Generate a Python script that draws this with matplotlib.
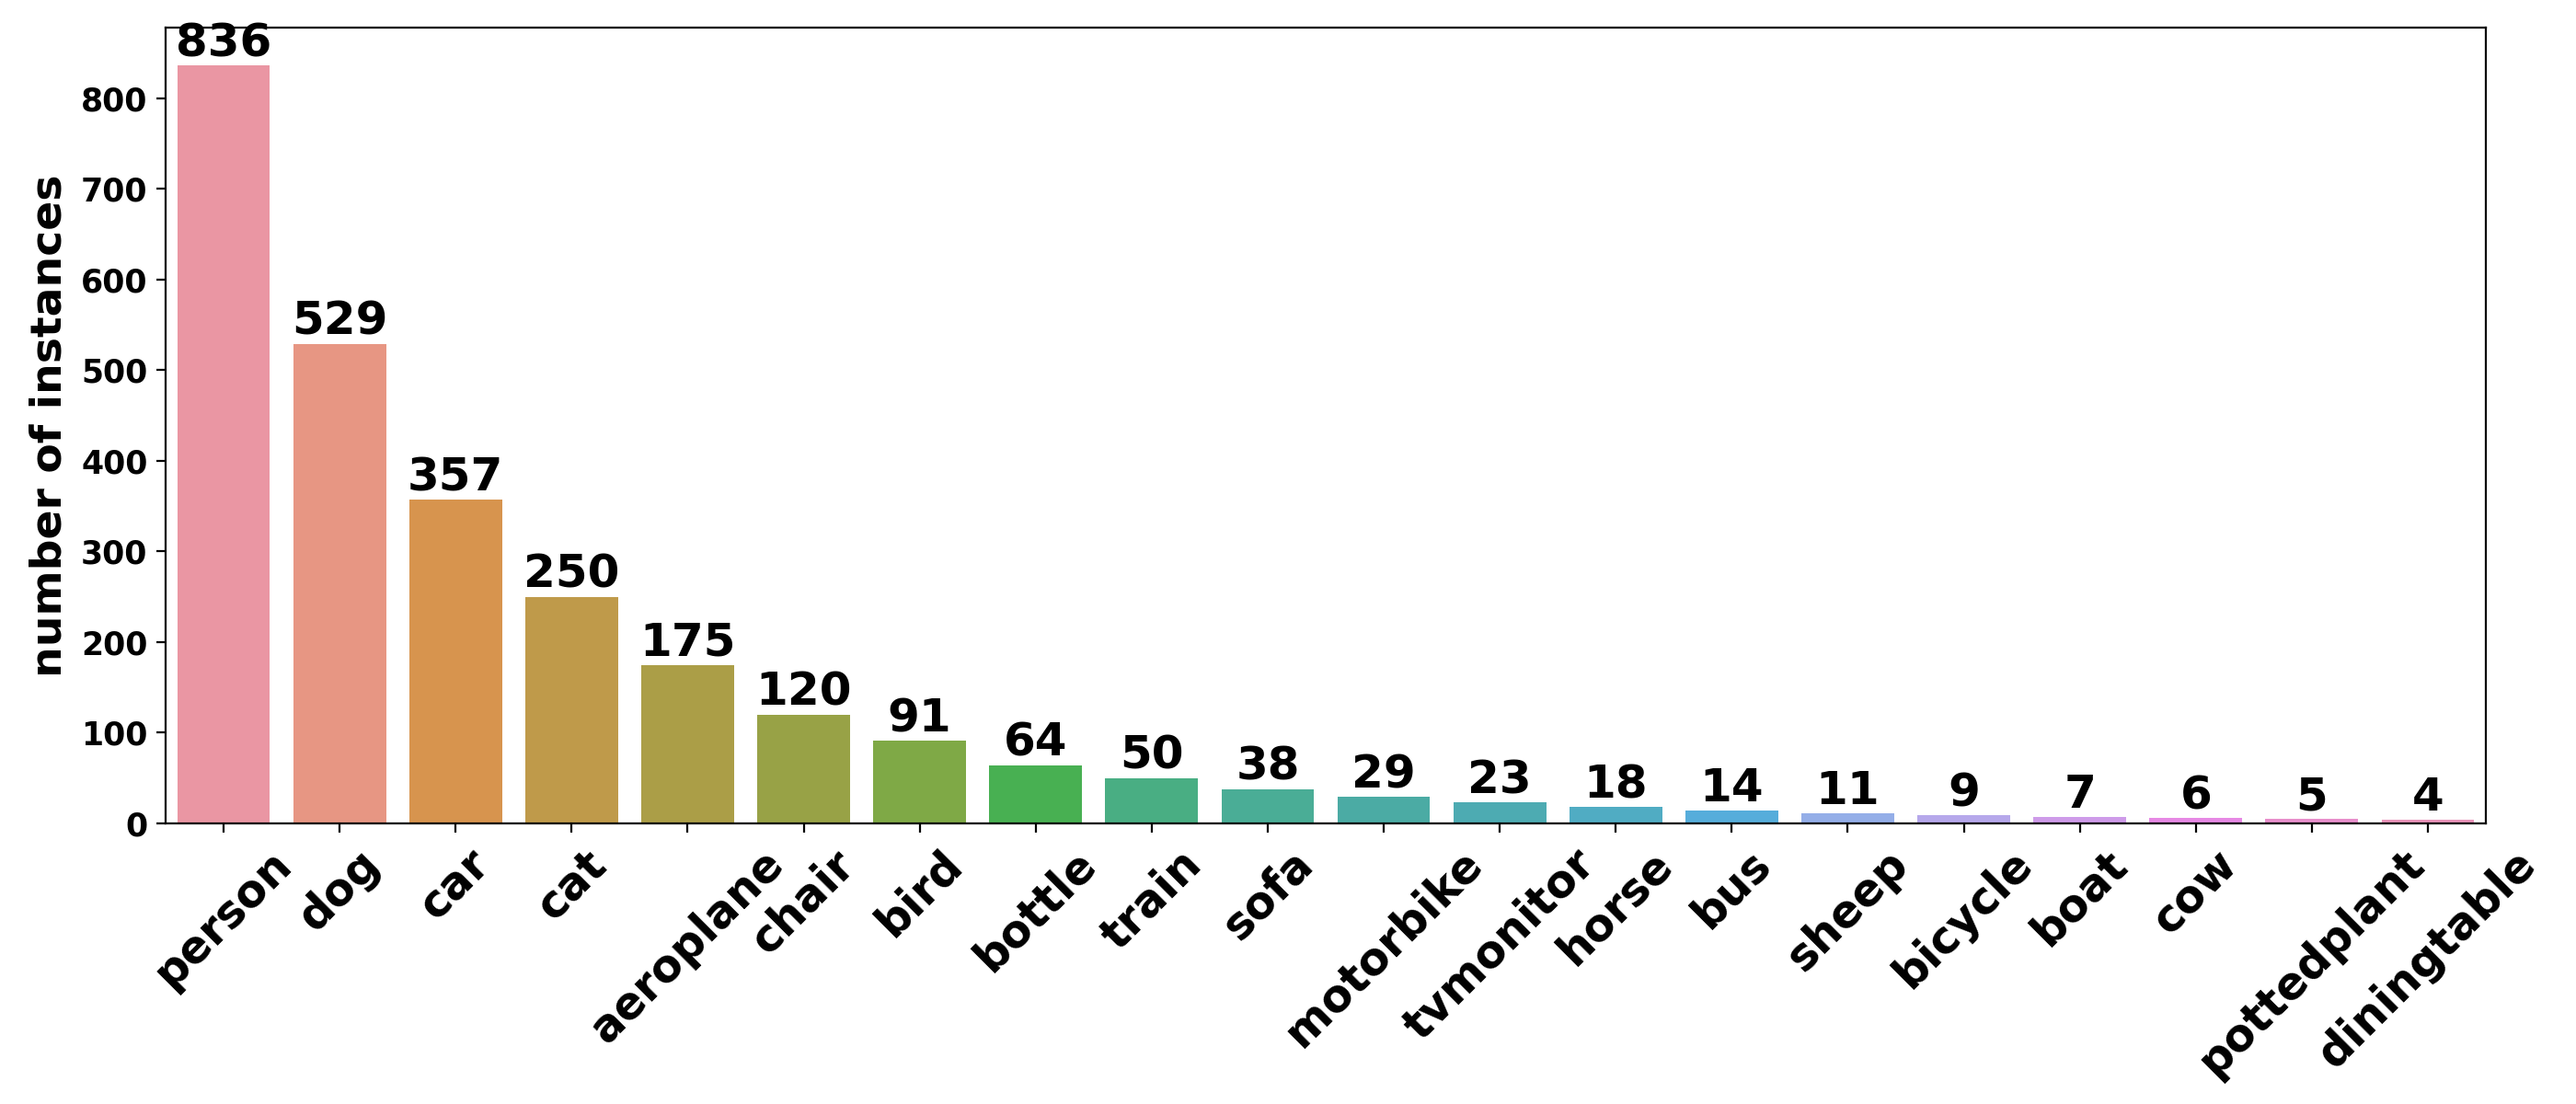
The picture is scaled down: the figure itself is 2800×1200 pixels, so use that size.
import matplotlib
matplotlib.use("Agg")
import matplotlib.pyplot as plt
import seaborn as sns

# --- data ---
categories = ['person', 'dog', 'car', 'cat', 'aeroplane', 'chair', 'bird', 'bottle',
              'train', 'sofa', 'motorbike', 'tvmonitor', 'horse', 'bus', 'sheep',
              'bicycle', 'boat', 'cow', 'pottedplant', 'diningtable']
counts = [836, 529, 357, 250, 175, 120, 91, 64, 50, 38, 29, 23, 18, 14, 11, 9, 7, 6, 5, 4]

fig, ax = plt.subplots(figsize=(14, 6), dpi=200)
fig.subplots_adjust(left=180 / 2800, right=2702 / 2800, top=1 - 30 / 1200, bottom=1 - 895 / 1200)

palette = sns.husl_palette(len(categories), l=0.70, s=0.9)
sns.barplot(x=categories, y=counts, hue=categories, palette=palette,
            saturation=0.75, legend=False, ax=ax)

# value labels on top of each bar
for i, v in enumerate(counts):
    ax.text(i, v, str(v), ha='center', va='bottom', fontsize=18, fontweight='bold')

ax.set_ylabel('number of instances', fontsize=17, fontweight='bold')
ax.set_xlabel('')
ax.tick_params(axis='x', labelsize=17.5, rotation=45)
ax.tick_params(axis='y', labelsize=12.5)
for lbl in ax.get_xticklabels() + ax.get_yticklabels():
    lbl.set_fontweight('bold')

fig.savefig('out.png', dpi=200)
